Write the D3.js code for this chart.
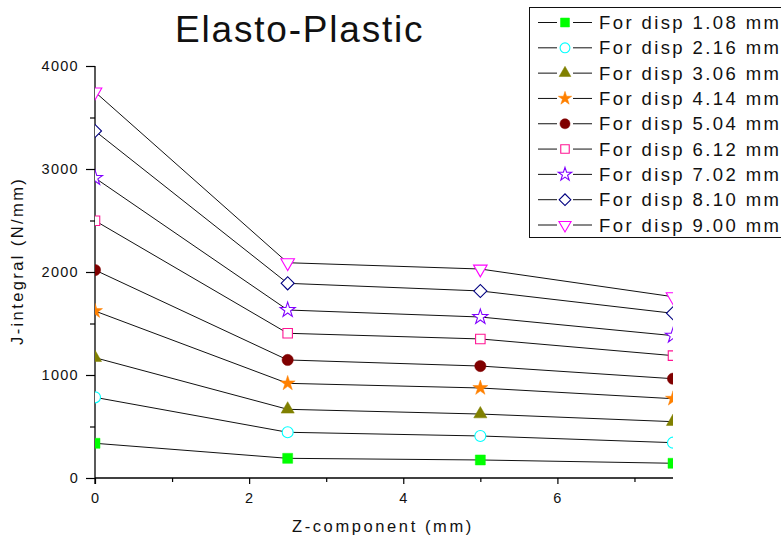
<!DOCTYPE html>
<html>
<head>
<meta charset="utf-8">
<script src="https://cdn.jsdelivr.net/npm/d3@7"></script>
<style>
  body { margin: 0; background: #fff; }
  svg { display: block; font-family: "Liberation Sans", Arial, sans-serif; }
  .lbl { font-size: 14.5px; fill: #111; }
</style>
</head>
<body>
<div id="chart"></div>
<script>
// Z positions along the crack front (mm)
const zValues = [0, 2.5, 5, 7.5];
const dispLabels = ["1.08", "2.16", "3.06", "4.14", "5.04", "6.12", "7.02", "8.10", "9.00"];

// J-integral values (N/mm), one list per applied displacement
const disp108 = [337, 191, 175, 143];
const disp216 = [783, 444, 408, 343];
const disp306 = [1168, 667, 621, 547];
const disp414 = [1621, 919, 874, 770];
const disp504 = [2019, 1146, 1087, 964];
const disp612 = [2498, 1405, 1350, 1188];
const disp702 = [2913, 1631, 1563, 1382];
const disp810 = [3369, 1890, 1816, 1599];
const disp900 = [3748, 2090, 2029, 1760];

const yTicks = [0, 1000, 2000, 3000, 4000];
const xTicks = [0, 2, 4, 6];

const seriesValues = [disp108, disp216, disp306, disp414, disp504, disp612, disp702, disp810, disp900];

// marker style per series
const styles = [
    {type: d3.symbolSquare,   size: 100, rot: 0,   color: "#00ff00", filled: true},
    {type: d3.symbolCircle,   size: 95,  rot: 0,   color: "#00ffff", filled: false},
    {type: d3.symbolTriangle, size: 75,  rot: 0,   color: "#808000", filled: true},
    {type: d3.symbolStar,     size: 70,  rot: 0,   color: "#ff8000", filled: true},
    {type: d3.symbolCircle,   size: 100, rot: 0,   color: "#800000", filled: true},
    {type: d3.symbolSquare,   size: 90,  rot: 0,   color: "#ff1493", filled: false},
    {type: d3.symbolStar,     size: 70,  rot: 0,   color: "#8000ff", filled: false},
    {type: d3.symbolSquare,   size: 85,  rot: 45,  color: "#000080", filled: false},
    {type: d3.symbolTriangle, size: 80,  rot: 180, color: "#ff00ff", filled: false}
];

const series = seriesValues.map((vals, i) => ({
    label: "For disp " + dispLabels[i] + " mm",
    style: styles[i],
    points: vals.map((v, j) => ({z: zValues[j], j: v}))
}));

const W = 781, H = 539;
const margin = {left: 95, right: 108, top: 66, bottom: 61};

const x = d3.scaleLinear().domain([0, 7.5]).range([margin.left, W - margin.right]);
const y = d3.scaleLinear().domain([0, 4000]).range([H - margin.bottom, margin.top]);

const svg = d3.select("#chart").append("svg")
    .attr("width", W)
    .attr("height", H);

svg.append("defs").append("clipPath")
    .attr("id", "plotclip")
    .append("rect")
    .attr("x", x(0))
    .attr("y", 0)
    .attr("width", x(7.5) - x(0))
    .attr("height", y(0));

// title
svg.append("text")
    .attr("x", 175)
    .attr("y", 42)
    .style("font-size", "37px")
    .attr("letter-spacing", 1.8)
    .attr("fill", "#111")
    .text("Elasto-Plastic");

// axes (ticks from d3, labels written separately)
const xAxis = d3.axisBottom(x)
    .tickValues(d3.range(0, 7.5, 1))
    .tickSize(6)
    .tickFormat("");
const gx = svg.append("g")
    .attr("transform", `translate(0,${y(0)})`)
    .call(xAxis);
gx.select(".domain").attr("d", `M${x(0)},0H${x(7.5)}`).attr("stroke-width", 1.3);
gx.selectAll(".tick line").attr("y2", d => xTicks.includes(d) ? 6 : 4).attr("stroke-width", 1.2);

const yAxis = d3.axisLeft(y)
    .tickValues(d3.range(0, 4001, 500))
    .tickSize(9)
    .tickFormat("");
const gy = svg.append("g")
    .attr("transform", `translate(${x(0)},0)`)
    .call(yAxis);
gy.select(".domain").attr("d", `M0,${y(4000)}V${y(0) + 6}`).attr("stroke-width", 1.3);
gy.selectAll(".tick line").attr("x2", d => yTicks.includes(d) ? -9 : -5).attr("stroke-width", 1.2);

svg.append("g")
    .selectAll("text")
    .data(xTicks)
    .join("text")
    .attr("class", "lbl")
    .attr("x", d => x(d))
    .attr("y", y(0) + 25)
    .attr("text-anchor", "middle")
    .text(d => d);

svg.append("g")
    .selectAll("text")
    .data(yTicks)
    .join("text")
    .attr("class", "lbl")
    .attr("x", x(0) - 16)
    .attr("y", d => y(d))
    .attr("dy", "0.36em")
    .attr("text-anchor", "end")
    .attr("letter-spacing", 1.3)
    .text(d => d);

// axis titles
svg.append("text")
    .attr("x", 292)
    .attr("y", 532)
    .style("font-size", "16.5px")
    .attr("letter-spacing", 2.6)
    .attr("fill", "#111")
    .text("Z-component (mm)");

svg.append("text")
    .attr("transform", `translate(23,345) rotate(-90)`)
    .style("font-size", "16.5px")
    .attr("letter-spacing", 2.4)
    .attr("fill", "#111")
    .text("J-integral (N/mm)");

// data
const plot = svg.append("g").attr("clip-path", "url(#plotclip)");

const line = d3.line().x(d => x(d.z)).y(d => y(d.j));

plot.selectAll("path.series")
    .data(series)
    .join("path")
    .attr("class", "series")
    .attr("fill", "none")
    .attr("stroke", "#111")
    .attr("stroke-width", 1)
    .attr("d", d => line(d.points));

function marker(sel, st) {
    sel.attr("d", d3.symbol().type(st.type).size(st.size))
        .attr("fill", st.filled ? st.color : "#fff")
        .attr("stroke", st.color)
        .attr("stroke-width", st.filled ? 0.5 : 1.1);
}

series.forEach(s => {
    plot.append("g")
        .selectAll("path")
        .data(s.points)
        .join("path")
        .attr("transform", d => `translate(${x(d.z)},${y(d.j)}) rotate(${s.style.rot})`)
        .call(marker, s.style);
});

// legend
const legend = svg.append("g");
legend.append("rect")
    .attr("x", 529.5)
    .attr("y", 7.5)
    .attr("width", 270)
    .attr("height", 230)
    .attr("fill", "#fff")
    .attr("stroke", "#111")
    .attr("stroke-width", 1);

const rowY = d3.scaleLinear().domain([0, 8]).range([22.5, 225]);

series.forEach((s, i) => {
    const g = legend.append("g").attr("transform", `translate(0,${rowY(i)})`);
    g.append("line").attr("x1", 538).attr("x2", 557).attr("stroke", "#111").attr("stroke-width", 1);
    g.append("line").attr("x1", 573).attr("x2", 592).attr("stroke", "#111").attr("stroke-width", 1);
    g.append("path")
        .attr("transform", `translate(565,0) rotate(${s.style.rot})`)
        .call(marker, Object.assign({}, s.style, {size: s.style.size * 0.8}));
    g.append("text")
        .attr("x", 599)
        .attr("dy", "0.36em")
        .style("font-size", "18.5px")
        .attr("letter-spacing", 2.4)
        .attr("fill", "#111")
        .text(s.label);
});
</script>
</body>
</html>
